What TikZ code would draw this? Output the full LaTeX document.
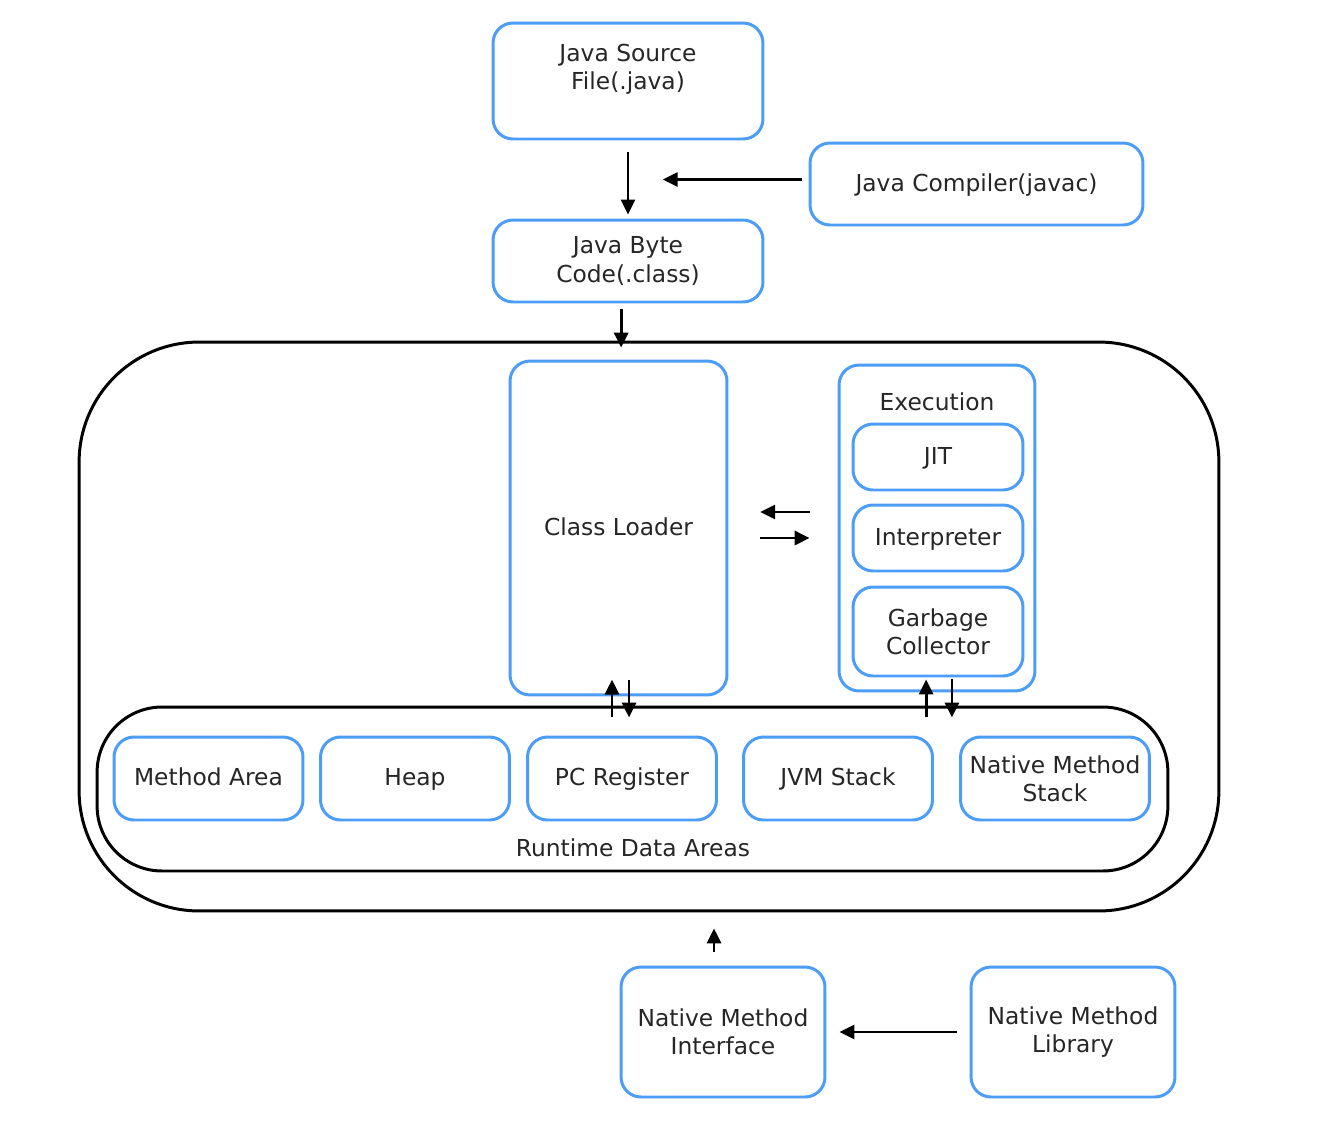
\documentclass[tikz,border=0pt]{standalone}
\usepackage{fontspec}
\setmainfont{DejaVu Sans}
\usetikzlibrary{arrows.meta,calc}
\definecolor{JVBlue}{HTML}{4C9DF8}
\definecolor{JVInk}{HTML}{000000}
\definecolor{JVText}{HTML}{262626}
\tikzset{
  >={Triangle[length=8.5pt,width=8pt]},
  jvbox/.style={rounded corners=0.4cm, draw=JVBlue, line width=1.7pt,
    align=center, text=JVText, inner sep=0pt},
  jvone/.style={jvbox, text height=0.92em, text depth=0.08em},
  jvframe/.style={draw=JVInk, line width=1.7pt, inner sep=0pt},
  jvlabel/.style={text=JVText, inner sep=0pt, text height=0.92em, text depth=0.08em},
  jvarrow/.style={->, line width=1.6pt, draw=JVInk}
}

\begin{document}
\begin{tikzpicture}[x=0.02cm, y=-0.02cm, font=\fontsize{13.3}{16}\selectfont]
  \useasboundingbox (0,0) rectangle (1320,1134);

  % compile step
  \node[jvbox, minimum width=5.4cm, minimum height=2.32cm] (src) at (628,81)
    {Java Source\\File(.java)\\~};
  \node[jvone, minimum width=6.66cm, minimum height=1.64cm] (cmp) at (976.5,184)
    {Java Compiler(javac)};
  \node[jvbox, minimum width=5.4cm, minimum height=1.64cm] (bc) at (628,261)
    {Java Byte\\Code(.class)};

  % the JVM
  \node[jvframe, rounded corners=2.4cm, minimum width=22.8cm, minimum height=11.38cm]
    (jvm) at (649,626.5) {};
  \node[jvone, minimum width=4.34cm, minimum height=6.68cm] (cl) at (618.5,528)
    {Class Loader};
  \node[jvbox, minimum width=3.92cm, minimum height=6.52cm] (exec) at (937,528) {};
  \node[jvlabel] (exectext) at (937,403) {Execution};
  \node[jvone, minimum width=3.4cm, minimum height=1.32cm] (jit) at (938,457) {JIT};
  \node[jvone, minimum width=3.4cm, minimum height=1.32cm] (intp) at (938,538)
    {Interpreter};
  \node[jvbox, minimum width=3.4cm, minimum height=1.78cm] (gc) at (938,631.5)
    {Garbage\\Collector};

  % runtime data areas
  \node[jvframe, rounded corners=1.3cm, minimum width=21.42cm, minimum height=3.28cm]
    (rda) at (632.5,789) {};
  \node[jvlabel] (rdatext) at (633,849) {Runtime Data Areas};
  \node[jvone, minimum width=3.78cm, minimum height=1.66cm] (ma) at (208.5,778.5)
    {Method Area};
  \node[jvone, minimum width=3.78cm, minimum height=1.66cm] (heap) at (415,778.5)
    {Heap};
  \node[jvone, minimum width=3.78cm, minimum height=1.66cm] (pc) at (622,778.5)
    {PC Register};
  \node[jvone, minimum width=3.78cm, minimum height=1.66cm] (stack) at (838,778.5)
    {JVM Stack};
  \node[jvbox, minimum width=3.78cm, minimum height=1.66cm] (nms) at (1055,778.5)
    {Native Method\\Stack};

  % native side
  \node[jvbox, minimum width=4.08cm, minimum height=2.6cm] (nmi) at (723,1032)
    {Native Method\\Interface};
  \node[jvbox, minimum width=4.08cm, minimum height=2.6cm] (nml) at (1073,1032)
    {Native Method\\Library};

  \coordinate (cin) at ($(src.south)!0.5!(bc.north)$);

  \draw[jvarrow, shorten <=6.8pt, shorten >=2.3pt] (src.south) -- (bc.north);
  \draw[jvarrow, shorten <=4pt, shorten >=19.8pt] (cmp.west |- cin) -- (cin);
  \draw[jvarrow, transform canvas={xshift=1.5pt}, shorten <=3.4pt, shorten >=-4pt]
    (bc.south -| cl.north) -- (jvm.north -| cl.north);

  \draw[jvarrow, shorten <=15.9pt, shorten >=18.1pt]
    ($(exec.west)+(0,-16)$) -- ($(cl.east)+(0,-16)$);
  \draw[jvarrow, shorten <=18.1pt, shorten >=15.9pt]
    ($(cl.east)+(0,10)$) -- ($(exec.west)+(0,10)$);

  \draw[jvarrow, transform canvas={xshift=-3.7pt}, shorten <=-6.8pt, shorten >=-9.6pt]
    (rda.north -| cl.south) -- (cl.south);
  \draw[jvarrow, transform canvas={xshift=6pt}, shorten <=-9.6pt, shorten >=-6.8pt]
    (cl.south) -- (rda.north -| cl.south);
  \draw[jvarrow, transform canvas={xshift=-6.2pt}, shorten <=-6.8pt, shorten >=-7.4pt]
    (rda.north -| exec.south) -- (exec.south);
  \draw[jvarrow, transform canvas={xshift=8.5pt}, shorten <=-7.4pt, shorten >=-6.8pt]
    (exec.south) -- (rda.north -| exec.south);

  \draw[jvarrow, transform canvas={xshift=-5.1pt}, shorten <=7.9pt, shorten >=9.1pt]
    (nmi.north) -- (nmi.north |- jvm.south);
  \draw[jvarrow, shorten <=7.4pt, shorten >=7.4pt] (nml.west) -- (nmi.east);
\end{tikzpicture}
\end{document}
